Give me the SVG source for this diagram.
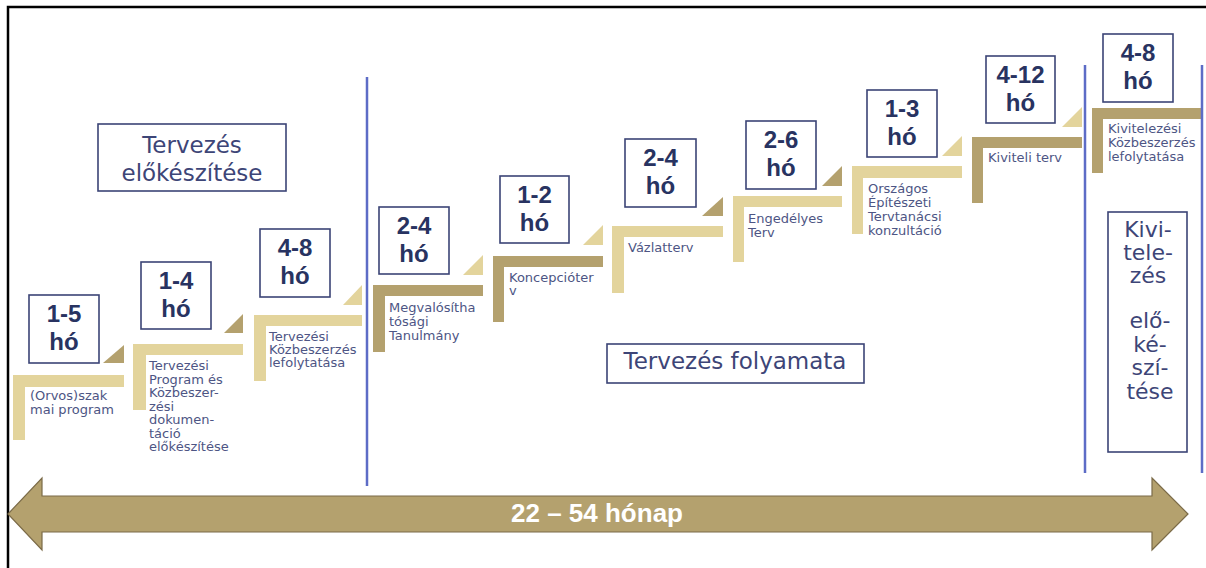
<svg xmlns="http://www.w3.org/2000/svg" width="1206" height="568" viewBox="0 0 1206 568">
<style>
.bg{fill:#ffffff}
.frame{fill:none;stroke:#000000;stroke-width:2.5}
.box{fill:#ffffff;stroke:#3b4476;stroke-width:1.6}
.dur{font-family:"Liberation Sans",Arial,sans-serif;font-weight:bold;font-size:24px;fill:#283361;text-anchor:middle}
.desc{font-family:"DejaVu Sans","Open Sans",sans-serif;font-size:13px;fill:#4d5584}
.big{font-family:"DejaVu Sans","Open Sans",sans-serif;font-size:23px;fill:#3d4577;text-anchor:middle}
.big2{font-family:"DejaVu Sans","Open Sans",sans-serif;font-size:22px;fill:#3d4577;text-anchor:middle}
.light{fill:#e3d49c}
.dark{fill:#b4a16e}
.sep{stroke:#5d6cc6;stroke-width:2.5}
.arrow{fill:#b4a16e;stroke:#7b6b48;stroke-width:1.2}
.arrowtxt{font-family:"Liberation Sans",Arial,sans-serif;font-weight:bold;font-size:26px;fill:#ffffff;text-anchor:middle}
</style>
<rect class="bg" x="0" y="0" width="1206" height="568"/>
<path class="frame" d="M8 568 V7 H1206"/>

<g id="phase-prep">
<rect class="box" x="98" y="124" width="188" height="67"/>
<text class="big" x="192" y="153">Tervezés</text>
<text class="big" x="192" y="181">előkészítése</text>
</g>

<g id="phase-design">
<rect class="box" x="607" y="344" width="257" height="39"/>
<text class="big" x="735" y="369">Tervezés folyamata</text>
</g>

<g id="phase-exec">
<rect class="box" x="1108" y="212" width="79" height="240"/>
<text class="big2" x="1148" y="237">Kivi-</text>
<text class="big2" x="1148" y="260">tele-</text>
<text class="big2" x="1148" y="283">zés</text>
<text class="big2" x="1150" y="328">elő-</text>
<text class="big2" x="1150" y="352">ké-</text>
<text class="big2" x="1150" y="375">szí-</text>
<text class="big2" x="1150" y="399">tése</text>
</g>

<g id="step1">
<rect class="box" x="29" y="295" width="70" height="68"/>
<text class="dur" x="64" y="322">1-5<tspan x="64" dy="28">hó</tspan></text>
<polygon class="dark" points="103,363 124,345 124,363"/>
<path class="light" d="M13 375 H124 V387 H25 V440 H13 Z"/>
<text class="desc" x="30" y="400">(Orvos)szak</text>
<text class="desc" x="30" y="414">mai program</text>
</g>

<g id="step2">
<rect class="box" x="141" y="262" width="70" height="67"/>
<text class="dur" x="176" y="289">1-4<tspan x="176" dy="28">hó</tspan></text>
<polygon class="dark" points="224,333 243,314 243,333"/>
<path class="light" d="M133 344 H243 V355 H146 V410 H133 Z"/>
<text class="desc" x="149" y="370">Tervezési</text>
<text class="desc" x="149" y="383.5">Program és</text>
<text class="desc" x="149" y="397">Közbeszer-</text>
<text class="desc" x="149" y="410.5">zési</text>
<text class="desc" x="149" y="424">dokumen-</text>
<text class="desc" x="149" y="437.5">táció</text>
<text class="desc" x="149" y="451">előkészítése</text>
</g>

<g id="step3">
<rect class="box" x="260" y="229" width="70" height="68"/>
<text class="dur" x="295" y="256">4-8<tspan x="295" dy="28">hó</tspan></text>
<polygon class="light" points="343,305 362,285 362,305"/>
<path class="light" d="M254 315 H362 V326 H266 V381 H254 Z"/>
<text class="desc" x="269" y="341">Tervezési</text>
<text class="desc" x="269" y="354">Közbeszerzés</text>
<text class="desc" x="269" y="367">lefolytatása</text>
</g>

<g id="step4">
<rect class="box" x="379" y="207" width="70" height="67"/>
<text class="dur" x="414" y="234">2-4<tspan x="414" dy="28">hó</tspan></text>
<polygon class="light" points="463,275 483,255 483,275"/>
<path class="dark" d="M373 285 H483 V296 H385 V352 H373 Z"/>
<text class="desc" x="389" y="312">Megvalósítha</text>
<text class="desc" x="389" y="326">tósági</text>
<text class="desc" x="389" y="340">Tanulmány</text>
</g>

<g id="step5">
<rect class="box" x="500" y="176" width="69" height="67"/>
<text class="dur" x="534.5" y="203">1-2<tspan x="534.5" dy="28">hó</tspan></text>
<polygon class="light" points="583,245 603,225 603,245"/>
<path class="dark" d="M493 256 H603 V267 H504 V322 H493 Z"/>
<text class="desc" x="509" y="282">Koncepcióter</text>
<text class="desc" x="509" y="295">v</text>
</g>

<g id="step6">
<rect class="box" x="625" y="139" width="71" height="68"/>
<text class="dur" x="660.5" y="166">2-4<tspan x="660.5" dy="28">hó</tspan></text>
<polygon class="dark" points="702,216 723,197 723,216"/>
<path class="light" d="M612 226 H723 V237 H624 V293 H612 Z"/>
<text class="desc" x="628" y="252">Vázlatterv</text>
</g>

<g id="step7">
<rect class="box" x="746" y="121" width="70" height="68"/>
<text class="dur" x="781" y="148">2-6<tspan x="781" dy="28">hó</tspan></text>
<polygon class="dark" points="822,186 842,166 842,186"/>
<path class="light" d="M733 196 H842 V207 H744 V262 H733 Z"/>
<text class="desc" x="748" y="223">Engedélyes</text>
<text class="desc" x="748" y="237">Terv</text>
</g>

<g id="step8">
<rect class="box" x="867" y="90" width="70" height="67"/>
<text class="dur" x="902" y="117">1-3<tspan x="902" dy="28">hó</tspan></text>
<polygon class="light" points="942,156 962,136 962,156"/>
<path class="light" d="M852 166 H962 V178 H863 V234 H852 Z"/>
<text class="desc" x="868" y="193">Országos</text>
<text class="desc" x="868" y="207">Építészeti</text>
<text class="desc" x="868" y="221">Tervtanácsi</text>
<text class="desc" x="868" y="235">konzultáció</text>
</g>

<g id="step9">
<rect class="box" x="986" y="56" width="69" height="67"/>
<text class="dur" x="1020.5" y="83">4-12<tspan x="1020.5" dy="28">hó</tspan></text>
<polygon class="light" points="1062,127 1082,107 1082,127"/>
<path class="dark" d="M972 137 H1082 V148 H983 V203 H972 Z"/>
<text class="desc" x="988" y="162">Kiviteli terv</text>
</g>

<g id="step10">
<rect class="box" x="1103" y="34" width="70" height="68"/>
<text class="dur" x="1138" y="61">4-8<tspan x="1138" dy="28">hó</tspan></text>
<path class="dark" d="M1092 108 H1202 V119 H1103 V173 H1092 Z"/>
<text class="desc" x="1108" y="133">Kivitelezési</text>
<text class="desc" x="1108" y="147">Közbeszerzés</text>
<text class="desc" x="1108" y="161">lefolytatása</text>
</g>

<g id="connectors">
<line class="sep" x1="367" y1="77" x2="367" y2="486"/>
<line class="sep" x1="1085" y1="65" x2="1085" y2="473"/>
<line class="sep" x1="1202" y1="65" x2="1202" y2="473"/>
</g>

<g id="timeline">
<polygon class="arrow" points="8,514 42,478 42,496 1152,496 1152,478 1188,514 1152,550 1152,532 42,532 42,550"/>
<text class="arrowtxt" x="597" y="522">22 – 54 hónap</text>
</g>
</svg>
